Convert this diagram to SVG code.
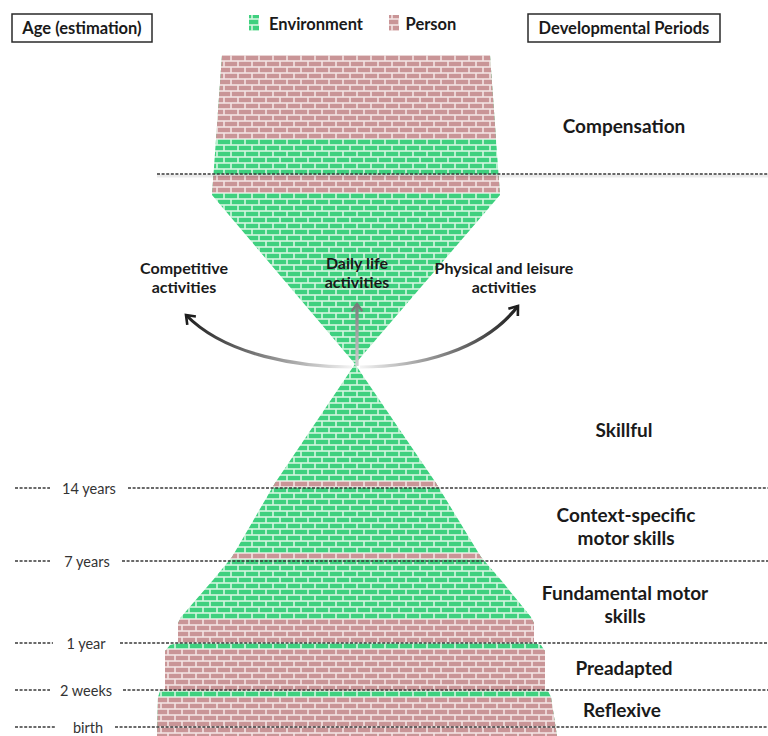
<svg xmlns="http://www.w3.org/2000/svg" width="768" height="736" viewBox="0 0 768 736">
<style>
.t{font-family:Lato,"Liberation Sans",sans-serif;font-weight:bold;fill:#1a1a1a;text-anchor:middle}
.per{font-size:19px}
.act{font-size:16px}
.hdr{font-size:16.5px}
.age{font-family:Lato,"Liberation Sans",sans-serif;font-size:14.5px;fill:#333;text-anchor:middle}
.dash{stroke:#3a3a3a;stroke-width:1.6;stroke-dasharray:3 1.6;fill:none}
.shadow{stroke:#000;stroke-opacity:0.08;stroke-width:3;fill:none}
.box{fill:#fff;stroke:#2a2a2a;stroke-width:1.5}
</style>
<defs>
<pattern id="green" patternUnits="userSpaceOnUse" x="0" y="1" width="14" height="12">
<rect width="14" height="12" fill="#d4f6e0"/>
<rect x="0.8" y="0.8" width="12.4" height="4.4" fill="#3fd07f"/>
<rect x="-6.2" y="6.8" width="12.4" height="4.4" fill="#3fd07f"/>
<rect x="7.8" y="6.8" width="12.4" height="4.4" fill="#3fd07f"/>
</pattern>
<pattern id="pink" patternUnits="userSpaceOnUse" x="0" y="1" width="14" height="12">
<rect width="14" height="12" fill="#f3e3e3"/>
<rect x="0.8" y="0.8" width="12.4" height="4.4" fill="#c99597"/>
<rect x="-6.2" y="6.8" width="12.4" height="4.4" fill="#c99597"/>
<rect x="7.8" y="6.8" width="12.4" height="4.4" fill="#c99597"/>
</pattern>
<clipPath id="hg">
<polygon points="222,55 490,55 500,195 355,364 436,483 481,557 501,580 531,617 534,623 534,643 541,645 545,651 545,689 548,691 551,697 557,736 157,736 158,697 160,691 165,689 165,651 170,645 178,643 178,623 181,617 213,580 232,557 275,483 355,364 212,195"/>
</clipPath>
<linearGradient id="gl" gradientUnits="userSpaceOnUse" x1="352" y1="0" x2="186" y2="0">
<stop offset="0" stop-color="#f4f4f4"/>
<stop offset="1" stop-color="#1e1e1e"/>
</linearGradient>
<linearGradient id="gr" gradientUnits="userSpaceOnUse" x1="360" y1="0" x2="518" y2="0">
<stop offset="0" stop-color="#f4f4f4"/>
<stop offset="1" stop-color="#1e1e1e"/>
</linearGradient>
<linearGradient id="gc" gradientUnits="userSpaceOnUse" x1="0" y1="366" x2="0" y2="304">
<stop offset="0" stop-color="#d0d0d0"/>
<stop offset="1" stop-color="#7a7a7a"/>
</linearGradient>
<marker id="ahDark" markerUnits="userSpaceOnUse" markerWidth="20" markerHeight="20" refX="10" refY="7" orient="auto" viewBox="0 0 20 14">
<path d="M2,1 L10,7 L2,13" fill="none" stroke="#1e1e1e" stroke-width="2.6" stroke-linejoin="miter"/>
</marker>
<marker id="ahGray" markerUnits="userSpaceOnUse" markerWidth="18" markerHeight="18" refX="10" refY="7" orient="auto" viewBox="0 0 20 14">
<path d="M2,1 L10,7 L2,13" fill="none" stroke="#7a7a7a" stroke-width="2.6"/>
</marker>
</defs>

<g id="legend">
<g id="age-box"><rect class="box" x="12" y="14" width="140" height="28"/><text class="t hdr" x="82" y="34">Age (estimation)</text></g>
<g id="periods-box"><rect class="box" x="528" y="14" width="192" height="28"/><text class="t hdr" x="624" y="34">Developmental Periods</text></g>
<g id="legend-env"><rect x="249" y="15" width="10" height="16" fill="url(#green)"/><text class="t hdr" x="316" y="30">Environment</text></g>
<g id="legend-person"><rect x="389" y="15" width="10" height="16" fill="url(#pink)"/><text class="t hdr" x="431" y="30">Person</text></g>
</g>

<g id="hourglass" clip-path="url(#hg)">
<rect x="150" y="50" width="420" height="690" fill="url(#green)"/>
<rect x="150" y="50" width="420" height="89" fill="url(#pink)"/>
<rect x="150" y="175" width="420" height="18" fill="url(#pink)"/>
<rect x="150" y="481" width="420" height="6" fill="url(#pink)"/>
<rect x="150" y="553" width="420" height="6" fill="url(#pink)"/>
<rect x="150" y="619" width="420" height="24" fill="url(#pink)"/>
<rect x="150" y="649" width="420" height="42" fill="url(#pink)"/>
<rect x="150" y="697" width="420" height="42" fill="url(#pink)"/>
</g>

<g id="age-lines">
<path class="shadow" d="M157 176 H768"/>
<path class="dash" d="M157 174 H768"/>
<g id="age-14"><path class="dash" d="M15 488 H50 M128 488 H768"/><text class="age" x="89" y="494">14 years</text></g>
<g id="age-7"><path class="dash" d="M15 561 H50 M122 561 H768"/><text class="age" x="87" y="567">7 years</text></g>
<g id="age-1"><path class="dash" d="M15 643 H53 M120 643 H768"/><text class="age" x="86" y="649">1 year</text></g>
<g id="age-2w"><path class="dash" d="M15 690 H50 M123 690 H768"/><text class="age" x="86" y="696">2 weeks</text></g>
<g id="age-birth"><path class="dash" d="M15 727 H55 M115 727 H768"/><text class="age" x="88" y="733">birth</text></g>
</g>

<g id="periods">
<g id="p-compensation"><text class="t per" x="624" y="133">Compensation</text></g>
<g id="p-skillful"><text class="t per" x="624" y="437">Skillful</text></g>
<g id="p-context"><text class="t per" x="626" y="522">Context-specific</text><text class="t per" x="626" y="545">motor skills</text></g>
<g id="p-fundamental"><text class="t per" x="625" y="600">Fundamental motor</text><text class="t per" x="625" y="623">skills</text></g>
<g id="p-preadapted"><text class="t per" x="624" y="675">Preadapted</text></g>
<g id="p-reflexive"><text class="t per" x="622" y="717">Reflexive</text></g>
</g>

<g id="activities">
<g id="a-competitive"><text class="t act" x="184" y="274">Competitive</text><text class="t act" x="184" y="293">activities</text></g>
<g id="a-daily"><text class="t act" x="357" y="269">Daily life</text><text class="t act" x="357" y="288">activities</text></g>
<g id="a-physical"><text class="t act" x="504" y="274">Physical and leisure</text><text class="t act" x="504" y="293">activities</text></g>
</g>

<g id="connectors" fill="none">
<path d="M352 367 C300 367 226 356 186 315" stroke="url(#gl)" stroke-width="3.2" marker-end="url(#ahDark)"/>
<path d="M360 367 C420 367 484 350 518 306" stroke="url(#gr)" stroke-width="3.2" marker-end="url(#ahDark)"/>
<path d="M357 366 L357 304" stroke="url(#gc)" stroke-width="3.2" marker-end="url(#ahGray)"/>
</g>
</svg>
